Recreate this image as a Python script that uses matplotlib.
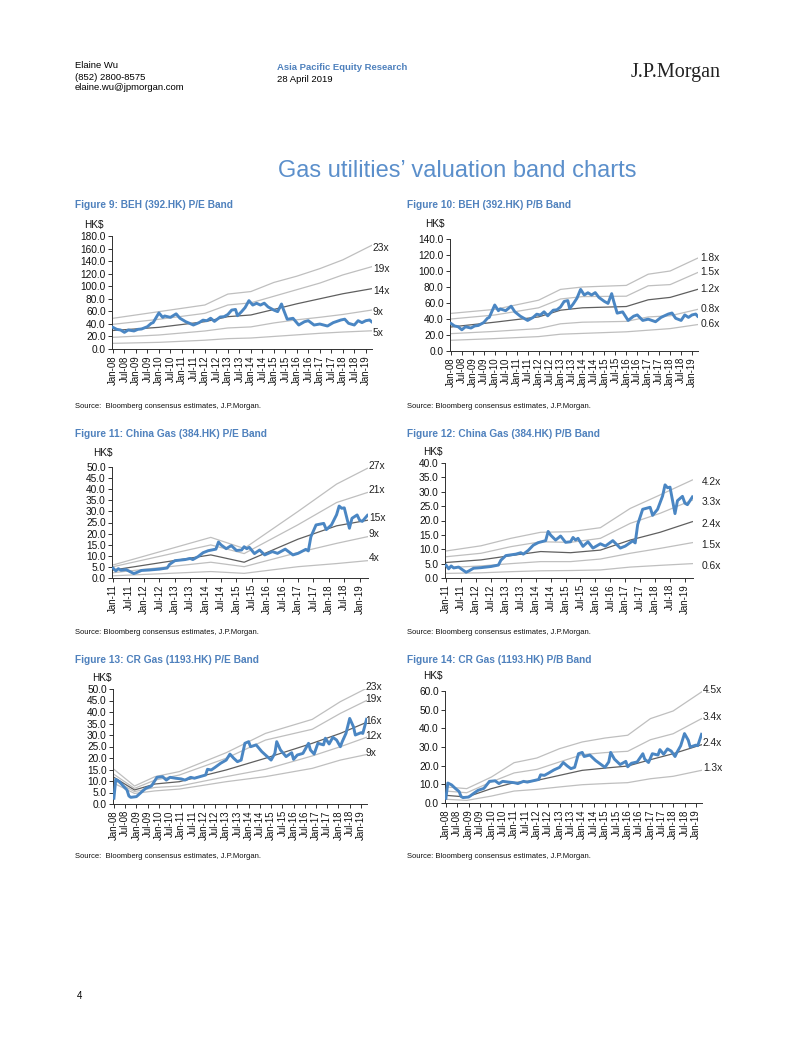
import matplotlib
matplotlib.use("Agg")
import matplotlib.pyplot as plt

plt.rcParams['font.family'] = ['Liberation Sans', 'DejaVu Sans']

W, H = 802, 1037
BLUE_TXT = "#4F81BD"
PRICE_C = "#4A86C3"
LIGHT = "#BFBFBF"
DARK = "#5F5F5F"

# ---------------- data ----------------
# BEH (392.HK) share price, HK$
beh_dates = ["2008-01", "2008-03", "2008-05", "2008-07", "2008-09", "2008-12",
             "2009-02", "2009-04", "2009-07", "2009-09", "2009-10", "2010-01",
             "2010-03", "2010-04", "2010-07", "2010-10", "2010-12", "2011-03",
             "2011-05", "2011-07", "2011-10", "2011-12", "2012-02", "2012-04",
             "2012-06", "2012-09", "2012-11", "2013-01", "2013-03", "2013-05",
             "2013-06", "2013-08", "2013-10", "2013-12", "2014-02", "2014-04",
             "2014-06", "2014-08", "2014-10", "2015-01", "2015-03", "2015-05",
             "2015-06", "2015-08", "2015-11", "2016-02", "2016-05", "2016-07",
             "2016-10", "2017-01", "2017-05", "2017-08", "2017-12", "2018-02",
             "2018-04", "2018-07", "2018-09", "2018-11", "2019-01", "2019-03",
             "2019-04"]
beh_price = [34.5, 31.3, 30.3, 26.5, 30.3, 28.7,
             31.3, 31.9, 35.6, 40.9, 42.0, 57.5,
             50.4, 52.6, 50.4, 56.0, 49.0, 43.5,
             40.9, 38.2, 42.0, 46.0, 45.0, 49.0,
             44.0, 51.0, 51.5, 55.0, 62.0, 63.0,
             53.0, 59.0, 66.0, 77.0, 70.0, 72.8,
             70.0, 73.0, 67.0, 62.0, 59.5, 71.7,
             63.0, 47.3, 48.9, 38.2, 43.5, 45.1,
             38.2, 39.8, 36.6, 42.0, 46.2, 47.5,
             40.9, 38.2, 45.1, 42.0, 45.1, 46.2,
             43.5]

# Figure 9: BEH P/E band
beh_pe_dates = ["2008-01", "2010-01", "2012-01", "2013-01", "2014-01",
                "2015-01", "2016-01", "2017-01", "2018-01", "2019-04"]
beh_pe_23 = [48.9, 59.5, 70.1, 87.5, 91.5, 106.0, 116.0, 128.0, 142.0, 165.0]
beh_pe_19 = [39.3, 47.3, 56.8, 70.1, 73.5, 84.0, 94.5, 105.0, 118.0, 131.0]
beh_pe_14 = [29.5, 34.5, 43.5, 51.5, 54.2, 63.0, 72.0, 80.0, 88.0, 96.0]
beh_pe_9 = [18.6, 22.3, 28.7, 33.5, 35.2, 41.5, 46.5, 50.5, 55.0, 62.0]
beh_pe_5 = [9.0, 10.6, 14.0, 16.5, 17.5, 20.0, 22.5, 25.0, 27.0, 29.0]

# Figure 10: BEH P/B band
beh_pb_dates = ["2008-01", "2010-01", "2012-01", "2013-01", "2014-01",
                "2016-01", "2017-01", "2018-01", "2019-04"]
beh_pb_18 = [47.0, 52.0, 63.5, 77.0, 80.0, 82.0, 96.0, 100.0, 116.0]
beh_pb_15 = [40.0, 45.0, 54.0, 65.0, 68.0, 68.5, 81.5, 83.0, 98.0]
beh_pb_12 = [30.0, 36.0, 42.6, 51.0, 54.0, 55.6, 64.0, 67.0, 77.0]
beh_pb_08 = [21.7, 24.5, 28.0, 34.0, 36.0, 37.0, 42.6, 44.0, 52.0]
beh_pb_06 = [13.4, 15.5, 18.0, 21.0, 22.0, 24.0, 26.0, 28.0, 33.0]

# China Gas (384.HK) share price, HK$
cg_dates = ["2011-01", "2011-02", "2011-03", "2011-04", "2011-06", "2011-08",
            "2011-09", "2011-10", "2011-12", "2012-03", "2012-07", "2012-10",
            "2012-11", "2013-01", "2013-05", "2013-07", "2013-08", "2013-10",
            "2013-12", "2014-02", "2014-05", "2014-06", "2014-07", "2014-09",
            "2014-11", "2015-01", "2015-03", "2015-04", "2015-05", "2015-06",
            "2015-08", "2015-10", "2015-12", "2016-03", "2016-05", "2016-08",
            "2016-11", "2017-01", "2017-04", "2017-05", "2017-06", "2017-08",
            "2017-11", "2017-12", "2018-02", "2018-04", "2018-05", "2018-06",
            "2018-07", "2018-09", "2018-10", "2018-12", "2019-01", "2019-02",
            "2019-04"]
cg_price = [4.4, 3.2, 4.2, 3.5, 3.8, 2.6,
            2.0, 2.4, 3.4, 3.6, 4.0, 4.5,
            6.2, 7.8, 8.3, 8.8, 8.3, 9.6,
            11.4, 12.3, 13.0, 16.2, 14.9, 13.2,
            14.6, 12.4, 12.6, 14.1, 13.2, 13.8,
            11.0, 12.6, 10.4, 11.9, 11.1, 13.0,
            10.4, 11.1, 12.9, 12.2, 18.6, 23.9,
            24.6, 21.8, 23.9, 28.5, 32.4, 31.4,
            31.6, 22.4, 26.9, 28.4, 26.0, 25.5,
            28.2]

# Figure 11: China Gas P/E band
cg_pe_dates = ["2011-01", "2014-03", "2015-04", "2017-01", "2018-04", "2019-04"]
cg_pe_27 = [5.9, 18.3, 13.3, 30.0, 42.3, 49.4]
cg_pe_21 = [5.1, 14.9, 11.0, 24.0, 34.0, 38.5]
cg_pe_15 = [3.6, 10.4, 7.1, 17.5, 23.5, 26.0]
cg_pe_9 = [2.4, 7.1, 5.1, 11.5, 15.6, 18.6]
cg_pe_4 = [1.0, 2.9, 2.1, 5.1, 6.5, 7.8]

# Figure 12: China Gas P/B band
cg_pb_dates = ["2011-01", "2012-03", "2013-03", "2014-03", "2015-03",
               "2016-03", "2017-03", "2018-03", "2019-04"]
cg_pb_42 = [9.4, 11.2, 13.8, 15.9, 16.1, 17.5, 24.2, 28.9, 34.1]
cg_pb_33 = [7.4, 8.6, 10.9, 12.6, 12.4, 13.8, 19.0, 22.5, 27.1]
cg_pb_24 = [5.4, 6.3, 7.8, 9.2, 8.8, 9.7, 13.2, 15.9, 19.6]
cg_pb_15 = [3.6, 4.2, 5.0, 5.7, 5.7, 6.6, 8.6, 10.3, 12.3]
cg_pb_06 = [1.6, 1.8, 2.2, 2.5, 2.6, 2.8, 3.8, 4.4, 5.0]

# CR Gas (1193.HK) share price, HK$
crg_dates = ["2008-01", "2008-02", "2008-04", "2008-06", "2008-08", "2008-09",
             "2008-10", "2009-01", "2009-02", "2009-04", "2009-06", "2009-09",
             "2009-10", "2009-12", "2010-03", "2010-05", "2010-07", "2010-10",
             "2011-01", "2011-03", "2011-06", "2011-08", "2011-11", "2012-02",
             "2012-03", "2012-05", "2012-07", "2012-10", "2013-01", "2013-03",
             "2013-05", "2013-07", "2013-09", "2013-11", "2014-01", "2014-02",
             "2014-05", "2014-08", "2014-10", "2015-01", "2015-03", "2015-04",
             "2015-06", "2015-09", "2015-12", "2016-01", "2016-03", "2016-06",
             "2016-09", "2016-10", "2016-12", "2017-02", "2017-05", "2017-06",
             "2017-08", "2017-10", "2017-12", "2018-02", "2018-03", "2018-05",
             "2018-07", "2018-09", "2018-10", "2019-01", "2019-02", "2019-04"]
crg_price = [2.5, 10.7, 9.7, 7.8, 6.1, 3.5,
             2.9, 3.2, 3.9, 5.4, 6.8, 7.8,
             9.0, 11.6, 11.9, 10.4, 11.6, 11.2,
             10.9, 10.4, 11.6, 11.2, 11.9, 12.6,
             15.1, 14.8, 15.9, 17.7, 19.1, 21.7,
             19.9, 18.4, 19.1, 26.4, 27.1, 24.9,
             25.7, 22.8, 21.3, 19.1, 22.0, 27.1,
             23.5, 20.6, 22.3, 19.4, 21.3, 22.0,
             26.4, 23.5, 21.7, 26.4, 25.7, 28.6,
             26.1, 29.0, 27.8, 24.9, 27.1, 30.7,
             37.2, 33.6, 30.0, 31.0, 30.7, 36.8]

# Figure 13: CR Gas P/E band
crg_pe_dates = ["2008-01", "2008-12", "2009-11", "2010-12", "2013-01",
                "2014-10", "2016-11", "2018-02", "2019-04"]
crg_pe_23 = [15.1, 7.8, 11.9, 14.1, 22.3, 30.7, 36.8, 44.5, 50.3]
crg_pe_19 = [12.9, 6.8, 10.4, 12.6, 19.9, 27.8, 32.5, 39.4, 45.0]
crg_pe_16 = [11.6, 6.1, 8.7, 9.7, 14.8, 19.9, 26.4, 30.7, 35.5]
crg_pe_12 = [10.4, 5.4, 7.2, 7.8, 11.9, 15.1, 20.9, 24.9, 29.0]
crg_pe_9 = [9.0, 4.6, 5.7, 6.5, 9.7, 11.9, 15.5, 19.1, 21.5]

# Figure 14: CR Gas P/B band
crg_pb_dates = ["2008-01", "2008-12", "2010-01", "2011-01", "2012-01", "2013-01",
                "2014-01", "2015-01", "2016-01", "2017-01", "2018-01", "2019-04"]
crg_pb_45 = [8.6, 7.7, 13.9, 21.6, 24.1, 29.1, 32.7, 34.8, 36.3, 45.2, 49.3, 59.5]
crg_pb_34 = [6.4, 5.5, 11.3, 16.1, 18.0, 22.0, 25.9, 27.0, 27.7, 33.9, 37.1, 45.2]
crg_pb_24 = [4.1, 3.2, 7.7, 10.9, 12.1, 14.8, 17.5, 18.7, 19.8, 23.2, 26.4, 31.2]
crg_pb_13 = [2.0, 1.4, 3.7, 6.4, 7.3, 8.6, 9.8, 10.4, 10.9, 13.0, 14.3, 17.5]


def to_year(s):
    y, m = s.split("-")
    return int(y) + (int(m) - 1) / 12.0


def fig_text(x, y, s, **kw):
    fig.text(x / W, 1 - y / H, s, **kw)


def band_chart(box, first_year, ymax, ystep, title, title_xy, hk_xy, src_xy, src_text,
               p_dates, p_vals, b_dates, bands, lab_off):
    left, right, top, bottom = box
    ax = fig.add_axes([left / W, 1 - bottom / H, (right - left) / W, (bottom - top) / H])
    bx = [to_year(d) for d in b_dates]
    for label, vals, dark in bands:
        ax.plot(bx, vals, color=DARK if dark else LIGHT, lw=0.9, zorder=2)
        ax.annotate(label, xy=(bx[-1], vals[-1]), xytext=lab_off,
                    textcoords="offset points", ha="left", va="center",
                    fontsize=7.4, color="#222222", annotation_clip=False)
    ax.plot([to_year(d) for d in p_dates], p_vals, color=PRICE_C, lw=2.1,
            solid_joinstyle="round", zorder=3)

    ax.set_xlim(first_year - 0.04, 2019.27)
    ax.set_ylim(0, ymax)
    yt = [i * ystep for i in range(int(round(ymax / ystep)) + 1)]
    ax.set_yticks(yt)
    ax.set_yticklabels(["%.1f" % v for v in yt])
    xt, xl = [], []
    for yr in range(first_year, 2020):
        for mo, name in ((1, "Jan"), (7, "Jul")):
            if yr == 2019 and mo == 7:
                continue
            xt.append(yr + (mo - 1) / 12.0)
            xl.append("%s-%02d" % (name, yr % 100))
    ax.set_xticks(xt)
    ax.set_xticklabels(xl, rotation=90)
    for s in ("top", "right"):
        ax.spines[s].set_visible(False)
    for s in ("left", "bottom"):
        ax.spines[s].set_color("#303030")
        ax.spines[s].set_linewidth(0.7)
    ax.tick_params(axis="y", direction="out", length=3, width=0.6, labelsize=7.3,
                   pad=1.5, colors="#111111")
    ax.tick_params(axis="x", direction="out", length=3, width=0.6, labelsize=6.9,
                   pad=1.5, colors="#111111")
    ax.patch.set_alpha(0)

    fig_text(title_xy[0], title_xy[1], title, fontsize=7.3, fontweight="bold",
             color=BLUE_TXT, va="center")
    fig_text(hk_xy[0], hk_xy[1], "HK$", fontsize=7.2, va="center", color="#111111")
    fig_text(src_xy[0], src_xy[1], src_text, fontsize=5.5, va="center", color="#111111")
    return ax


fig = plt.figure(figsize=(W / 100, H / 100), dpi=100)

# header
fig_text(75, 66, "Elaine Wu", fontsize=6.8, va="center")
fig_text(75, 77, "(852) 2800-8575", fontsize=6.8, va="center")
fig_text(75, 88, "elaine.wu@jpmorgan.com", fontsize=6.8, va="center")
fig_text(277, 67, "Asia Pacific Equity Research", fontsize=6.8, fontweight="bold",
         color=BLUE_TXT, va="center")
fig_text(277, 79, "28 April 2019", fontsize=6.8, va="center")
fig_text(721, 72, "J.P.Morgan", fontsize=14.5, family="Liberation Serif",
         ha="right", va="center", color="#222222")
fig_text(457, 171, "Gas utilities\u2019 valuation band charts", fontsize=17,
         color="#5B8FCB", ha="center", va="center")

src2 = "Source:  Bloomberg consensus estimates, J.P.Morgan."
src1 = "Source: Bloomberg consensus estimates, J.P.Morgan."

band_chart((112, 372, 236, 349), 2008, 180, 20,
           "Figure 9: BEH (392.HK) P/E Band", (75, 205), (84, 225), (75, 406), src2,
           beh_dates, beh_price, beh_pe_dates,
           [("23x", beh_pe_23, False), ("19x", beh_pe_19, False), ("14x", beh_pe_14, True),
            ("9x", beh_pe_9, False), ("5x", beh_pe_5, False)], (1, -1.5))

band_chart((450, 698, 239, 351), 2008, 140, 20,
           "Figure 10: BEH (392.HK) P/B Band", (407, 205), (425, 224), (407, 407), src1,
           beh_dates, beh_price, beh_pb_dates,
           [("1.8x", beh_pb_18, False), ("1.5x", beh_pb_15, False), ("1.2x", beh_pb_12, True),
            ("0.8x", beh_pb_08, False), ("0.6x", beh_pb_06, False)], (2, 0.5))

band_chart((112, 368, 467, 578), 2011, 50, 5,
           "Figure 11: China Gas (384.HK) P/E Band", (75, 434), (93, 453), (75, 632), src1,
           cg_dates, cg_price, cg_pe_dates,
           [("27x", cg_pe_27, False), ("21x", cg_pe_21, False), ("15x", cg_pe_15, True),
            ("9x", cg_pe_9, False), ("4x", cg_pe_4, False)], (1, 2))

band_chart((445, 693, 463, 578), 2011, 40, 5,
           "Figure 12: China Gas (384.HK) P/B Band", (407, 434), (423, 452), (407, 632), src1,
           cg_dates, cg_price, cg_pb_dates,
           [("4.2x", cg_pb_42, False), ("3.3x", cg_pb_33, False), ("2.4x", cg_pb_24, True),
            ("1.5x", cg_pb_15, False), ("0.6x", cg_pb_06, False)], (6.5, -1.5))

band_chart((113, 367, 689, 804), 2008, 50, 5,
           "Figure 13: CR Gas (1193.HK) P/E Band", (75, 660), (92, 678), (75, 857), src2,
           crg_dates, crg_price, crg_pe_dates,
           [("23x", crg_pe_23, False), ("19x", crg_pe_19, False), ("16x", crg_pe_16, True),
            ("12x", crg_pe_12, False), ("9x", crg_pe_9, False)], (-1, 1))

band_chart((445, 702, 691, 803), 2008, 60, 10,
           "Figure 14: CR Gas (1193.HK) P/B Band", (407, 660), (423, 676), (407, 857), src1,
           crg_dates, crg_price, crg_pb_dates,
           [("4.5x", crg_pb_45, False), ("3.4x", crg_pb_34, False), ("2.4x", crg_pb_24, True),
            ("1.3x", crg_pb_13, False)], (1, 1.5))

fig_text(77, 996, "4", fontsize=7, va="center")

fig.savefig("out.png", dpi=100)
